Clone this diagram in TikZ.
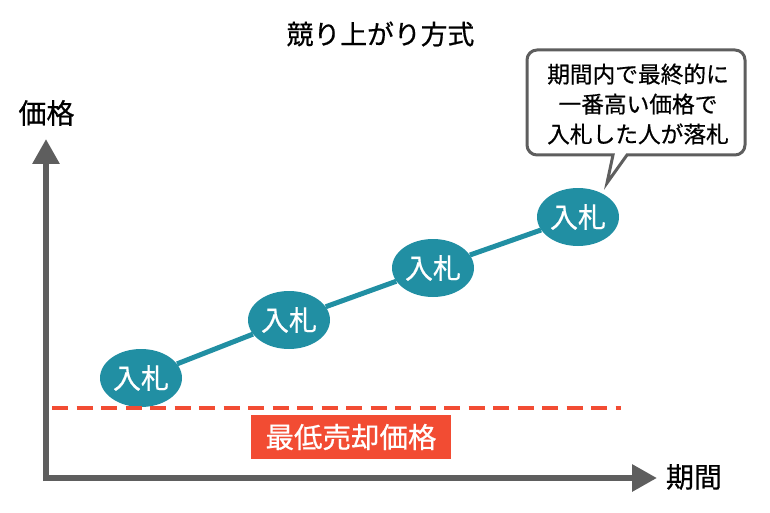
\documentclass[tikz,border=0pt]{standalone}
\usepackage{fontspec}
\setmainfont{Noto Sans CJK JP}[FakeBold=0.6]
\usetikzlibrary{arrows.meta,shapes.geometric}
\definecolor{bidteal}{HTML}{218FA3}
\definecolor{floorred}{HTML}{F24C33}
\definecolor{axisgray}{HTML}{5E5E5E}
\tikzset{
    bid/.style={ellipse,fill=bidteal,text=white,minimum width=82pt,minimum height=58pt,inner sep=0,font=\fontsize{28}{28}\selectfont},
    axis/.style={axisgray,line width=6pt,-{Triangle[length=25pt,width=26pt]}},
    axislabel/.style={font=\fontsize{28}{28}\selectfont,inner sep=0},
}
\begin{document}
\begin{tikzpicture}[x=1pt,y=-1pt]
    \useasboundingbox (0,0) rectangle (770,513);
    \node[font=\fontsize{26.8}{27}\selectfont,inner sep=0] (title) at (380.5,34) {競り上がり方式};
    % axes
    \coordinate (origin) at (46,478);
    \coordinate (ytip) at (46,139);
    \coordinate (xtip) at (657,478);
    \draw[axis] (46,481) -- (ytip);
    \draw[axis] (43,478) -- (xtip);
    \node[axislabel] (ylabel) at (46.5,113) {価格};
    \node[axislabel] (xlabel) at (694,477) {期間};
    % bids
    \foreach \n/\x/\y in {1/141/378,2/289/320,3/433/268,4/578/217} {
        \node[bid] (bid\n) at (\x,\y) {入札};
    }
    \foreach \a/\b in {1/2,2/3,3/4} { \draw[bidteal,line width=5pt] (bid\a) -- (bid\b); }
    % reserve price
    \coordinate (floorl) at (52,408);
    \coordinate (floorr) at (621,408);
    \draw[floorred,line width=4.4pt,dash pattern=on 16pt off 8.5pt] (floorl) -- (floorr);
    \node[fill=floorred,text=white,minimum width=200pt,minimum height=44pt,inner sep=0,font=\fontsize{28.5}{29}\selectfont] (floor) at (351,437) {最低売却価格};
    % callout
    \draw[axisgray,line width=3pt,fill=white,line join=miter]
        (627,155) -- (607,183) -- (613,155) -- (537,155)
        arc[start angle=90,end angle=180,radius=10] -- (527,60)
        arc[start angle=180,end angle=270,radius=10] -- (735,50)
        arc[start angle=270,end angle=360,radius=10] -- (745,145)
        arc[start angle=0,end angle=90,radius=10] -- cycle;
    \node[align=center,inner sep=0,font=\fontsize{22.7}{30}\selectfont] (note) at (638,104) {期間内で最終的に\\一番高い価格で\\入札した人が落札};
\end{tikzpicture}
\end{document}
